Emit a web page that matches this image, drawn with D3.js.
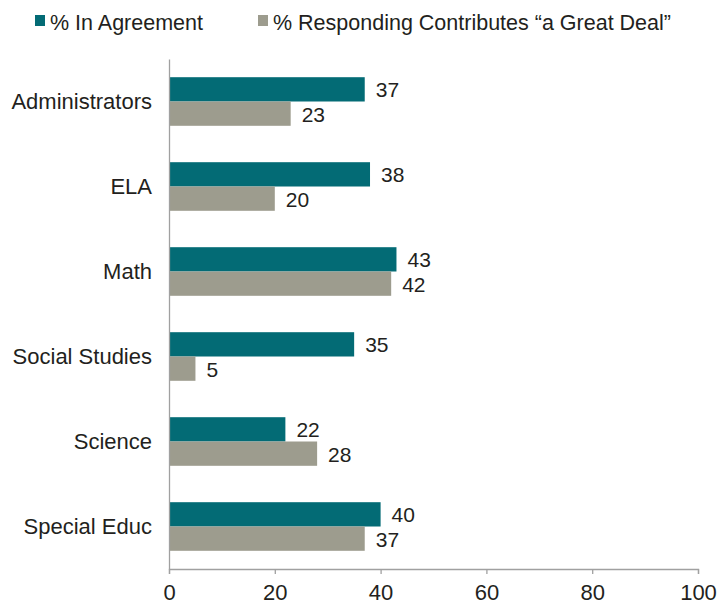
<!DOCTYPE html>
<html>
<head>
<meta charset="utf-8">
<script src="https://cdn.jsdelivr.net/npm/d3@7"></script>
<style>
    body { margin: 0; background: #fff; }
    text { font-family: "Liberation Sans", Arial, sans-serif; fill: #231f20; }
</style>
</head>
<body>
<div id="chart"></div>
<script>
// data
let categories = ["Administrators", "ELA", "Math", "Social Studies", "Science", "Special Educ"]
let agreement = [37, 38, 43, 35, 22, 40]
let greatDeal = [23, 20, 42, 5, 28, 37]
let seriesNames = ["% In Agreement", "% Responding Contributes \u201ca Great Deal\u201d"]
let xTicks = [0, 20, 40, 60, 80, 100]

let colours = ["#036b75", "#9d9c8e"]
let width = 721, height = 604
let margins = { t: 59, r: 23, b: 35, l: 169 }

let svg = d3.select('#chart').append('svg')
    .attr('width', width)
    .attr('height', height)

let xScale = d3.scaleLinear()
    .domain([0, 100])
    .range([margins.l, width - margins.r])

let yScale = d3.scaleBand()
    .domain(categories)
    .range([margins.t, height - margins.b])

let barH = 24.3

let series = [agreement, greatDeal]
let rows = []
series.forEach((vals, si) => {
    vals.forEach((v, i) => rows.push({ cat: categories[i], value: v, s: si }))
})

let barY = d => yScale(d.cat) + yScale.bandwidth() / 2 + (d.s === 0 ? -barH : 0)

// bars
svg.append('g').selectAll('rect')
    .data(rows)
    .join('rect')
    .attr('x', xScale(0))
    .attr('y', barY)
    .attr('width', d => xScale(d.value) - xScale(0))
    .attr('height', barH)
    .attr('fill', d => colours[d.s])

// value labels
svg.append('g').selectAll('text')
    .data(rows)
    .join('text')
    .attr('x', d => xScale(d.value) + 11)
    .attr('y', d => barY(d) + barH / 2 + 8)
    .attr('font-size', 21)
    .text(d => d.value)

// x axis
let xAxis = svg.append('g')
    .attr('transform', `translate(0, ${height - margins.b})`)
    .call(d3.axisBottom(xScale).tickValues(xTicks).tickSize(5).tickPadding(10))
xAxis.select('.domain').attr('stroke', '#a0a0a0').attr('stroke-width', 1.3)
xAxis.selectAll('.tick line').attr('stroke', '#a0a0a0').attr('stroke-width', 1.3)
xAxis.selectAll('.tick text')
    .attr('font-size', 22)
    .attr('font-family', '"Liberation Sans", Arial, sans-serif')
    .attr('fill', '#231f20')

// y axis
let yAxis = svg.append('g')
    .attr('transform', `translate(${margins.l}, 0)`)
    .call(d3.axisLeft(yScale).tickSize(0).tickPadding(17))
yAxis.select('.domain').attr('stroke', '#a0a0a0').attr('stroke-width', 1.3)
yAxis.selectAll('.tick text')
    .attr('font-size', 22)
    .attr('dy', '0.36em')
    .attr('font-family', '"Liberation Sans", Arial, sans-serif')
    .attr('fill', '#231f20')

// legend
let legendX = [35, 258]
let legend = svg.append('g').selectAll('g')
    .data(seriesNames)
    .join('g')
    .attr('transform', (d, i) => `translate(${legendX[i]}, 15)`)
legend.append('rect')
    .attr('width', 10)
    .attr('height', 11)
    .attr('fill', (d, i) => colours[i])
legend.append('text')
    .attr('x', 15)
    .attr('y', 15)
    .attr('font-size', 21.5)
    .text(d => d)
</script>
</body>
</html>
